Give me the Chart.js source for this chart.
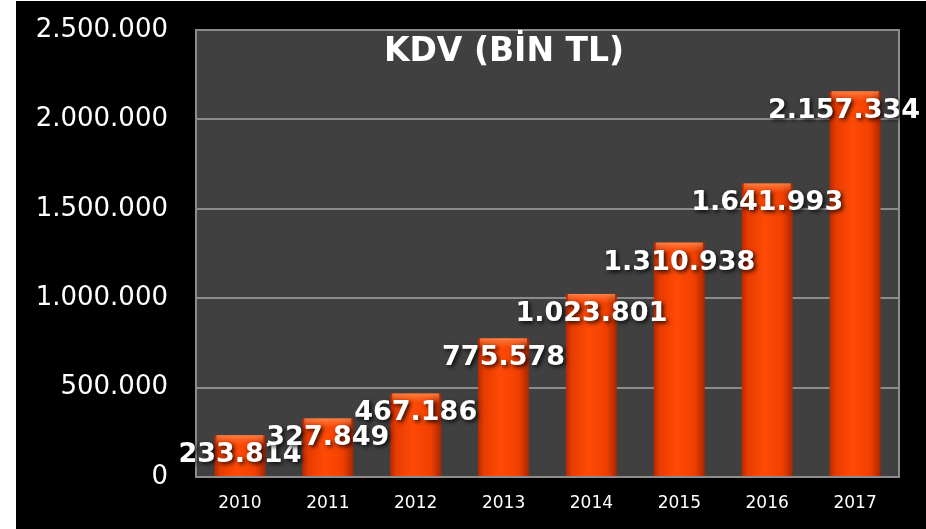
<!DOCTYPE html>
<html>
<head>
<meta charset="utf-8">
<script src="https://cdn.jsdelivr.net/npm/chart.js@4"></script>
<style>
  html, body { margin: 0; padding: 0; background: #fff; }
  #wrap { position: absolute; left: 16px; top: 1px; width: 910px; height: 528px; background: #000; }
</style>
</head>
<body>
<div id="wrap"><canvas id="kdv-chart" width="910" height="528"></canvas></div>
<script>
const years = ['2010', '2011', '2012', '2013', '2014', '2015', '2016', '2017'];
const kdvValues = [233814, 327849, 467186, 775578, 1023801, 1310938, 1641993, 2157334];
const yMax = 2500000;
const yStep = 500000;
const chartTitle = 'KDV (BİN TL)';

const FONT = '"DejaVu Sans", Verdana, sans-serif';

// turkish style thousands separator
const fmt = v => String(Math.round(v)).replace(/\B(?=(\d{3})+(?!\d))/g, '.');

const barPct = 0.58;

const barFill = (ctx) => {
  const chart = ctx.chart;
  const xs = chart.scales.x;
  if (!xs || !chart.chartArea) return '#f04000';
  const cx = xs.getPixelForValue(ctx.dataIndex);
  const w = (xs.width / years.length) * barPct;
  const g = chart.ctx.createLinearGradient(cx - w / 2, 0, cx + w / 2, 0);
  g.addColorStop(0, '#b82a00');
  g.addColorStop(0.12, '#e83c00');
  g.addColorStop(0.45, '#ff4a06');
  g.addColorStop(0.8, '#f04000');
  g.addColorStop(1, '#a82600');
  return g;
};

// plot area background + border
const plotBg = {
  id: 'plotBg',
  beforeDraw(chart) {
    const { ctx, chartArea: a } = chart;
    ctx.save();
    ctx.fillStyle = '#404040';
    ctx.fillRect(a.left, a.top, a.right - a.left, a.bottom - a.top);
    ctx.restore();
  },
  afterDraw(chart) {
    const { ctx, chartArea: a } = chart;
    ctx.save();
    ctx.strokeStyle = '#8c8c8c';
    ctx.lineWidth = 2;
    ctx.strokeRect(a.left, a.top, a.right - a.left, a.bottom - a.top);
    ctx.restore();
  }
};

// lighter band on top of each bar
const barShine = {
  id: 'barShine',
  afterDatasetsDraw(chart) {
    const { ctx } = chart;
    const meta = chart.getDatasetMeta(0);
    ctx.save();
    meta.data.forEach(bar => {
      const left = bar.x - bar.width / 2;
      const g = ctx.createLinearGradient(0, bar.y, 0, bar.y + 10);
      g.addColorStop(0, 'rgba(255,150,90,0.75)');
      g.addColorStop(1, 'rgba(255,120,60,0)');
      ctx.fillStyle = g;
      ctx.fillRect(left + 2, bar.y, bar.width - 4, 10);
    });
    ctx.restore();
  }
};

// title and value labels drawn inside the plot
const labelsPlugin = {
  id: 'labelsPlugin',
  afterDraw(chart) {
    const { ctx, chartArea: a } = chart;
    const meta = chart.getDatasetMeta(0);
    ctx.save();
    ctx.fillStyle = '#fff';
    ctx.textAlign = 'center';
    ctx.textBaseline = 'middle';
    ctx.font = 'bold 33px ' + FONT;
    ctx.fillText(chartTitle, 488, a.top + 22);

    ctx.font = 'bold 27px ' + FONT;
    ctx.shadowColor = 'rgba(0,0,0,0.85)';
    ctx.shadowBlur = 4;
    ctx.shadowOffsetX = 2;
    ctx.shadowOffsetY = 2;
    meta.data.forEach((bar, i) => {
      const txt = fmt(kdvValues[i]);
      const w = ctx.measureText(txt).width;
      let x = bar.x;
      x = Math.min(x, chart.width - w / 2 - 6);
      ctx.fillText(txt, x, bar.y + 20);
    });
    ctx.restore();
  }
};

new Chart(document.getElementById('kdv-chart'), {
  type: 'bar',
  data: {
    labels: years,
    datasets: [{
      label: chartTitle,
      data: kdvValues,
      backgroundColor: barFill,
      borderWidth: 0,
      categoryPercentage: 1,
      barPercentage: barPct
    }]
  },
  options: {
    responsive: false,
    animation: false,
    layout: { padding: { top: 29, right: 27, left: 0, bottom: 0 } },
    plugins: {
      legend: { display: false },
      title: { display: false },
      tooltip: { enabled: false }
    },
    scales: {
      x: {
        grid: { display: false, drawTicks: false },
        border: { display: false },
        ticks: { color: '#fff', font: { family: FONT, size: 17 }, padding: 16 },
        afterFit: s => { s.height = 52; }
      },
      y: {
        min: 0,
        max: yMax,
        grid: { color: '#8c8c8c', lineWidth: 2, drawTicks: false },
        border: { display: false },
        ticks: {
          stepSize: yStep,
          color: '#fff',
          font: { family: FONT, size: 26 },
          padding: 28,
          callback: v => fmt(v)
        },
        afterFit: s => {
          s.width = 180;
          s.paddingTop = 0;
          s.paddingBottom = 0;
        }
      }
    }
  },
  plugins: [plotBg, barShine, labelsPlugin]
});
</script>
</body>
</html>
